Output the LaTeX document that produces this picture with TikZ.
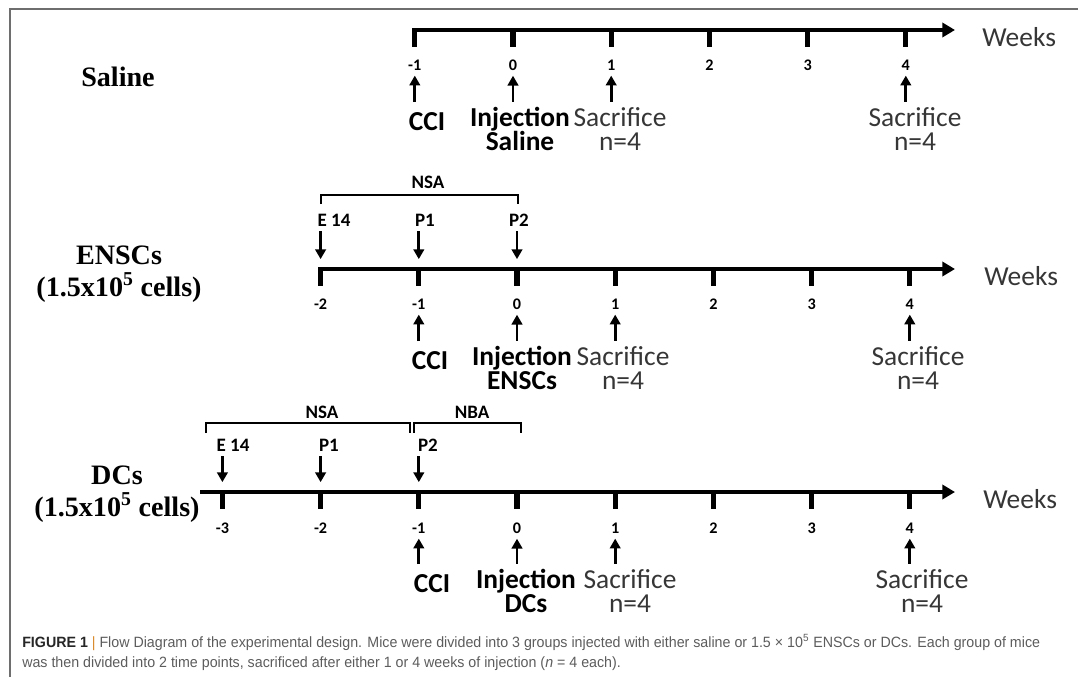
\documentclass[tikz,border=0pt]{standalone}
\usepackage{fontspec}
\setmainfont{Carlito}
\newfontfamily\groupfont{Liberation Serif}
\newfontfamily\captionfont[FakeStretch=0.955]{Liberation Sans}
\usetikzlibrary{arrows.meta, positioning}

\definecolor{framegray}{HTML}{6E6E6E}
\definecolor{txtgray}{HTML}{363636}
\definecolor{capgray}{HTML}{5C5C5C}
\definecolor{barorange}{HTML}{D9892B}

\tikzset{
  axisline/.style={line width=2.9pt, -{Triangle[length=9pt,width=10pt]}},
  tickmark/.style={line width=3.6pt},
  bracketline/.style={line width=1.3pt},
  uparrow/.style={line width=2pt, -{Triangle[length=7pt,width=7.5pt]},
                  shorten <=3.6pt, shorten >=3.6pt},
  dnarrow/.style={line width=2pt, -{Triangle[length=7pt,width=7.5pt]},
                  shorten <=3.5pt, shorten >=7pt},
  weeklbl/.style={inner sep=0pt, font=\bfseries\fontsize{11.5}{12}\selectfont},
  toplbl/.style={inner sep=0pt, font=\bfseries\fontsize{13.5}{14}\selectfont},
  evttxt/.style={inner sep=0pt, anchor=north, align=center,
                 font=\fontsize{19.5}{17}\selectfont, text=txtgray},
  evtbold/.style={evttxt, font=\bfseries\fontsize{19.5}{17}\selectfont, text=black},
  grplbl/.style={align=center, inner sep=0pt,
                 font=\groupfont\bfseries\fontsize{20}{22.5}\selectfont},
  weekstxt/.style={anchor=west, inner sep=0pt,
                   font=\fontsize{19.5}{22}\selectfont, text=txtgray},
}

\begin{document}
\begin{tikzpicture}[x=0.025cm, y=-0.025cm]
  \useasboundingbox (0,0) rectangle (1078,677);
  \draw[framegray, line width=1.4pt] (1078,9) -- (10,9) -- (10,677);

  % Saline
  \node[grplbl] (saline) at (118,77) {Saline};
  \draw[axisline] (412.3,30) -- (955,30);
  \foreach \w/\nm in {-1/m1,0/0,1/1,2/2,3/3,4/4}{
    \draw[tickmark] (513+98.2*\w,28) -- ++(0,19);
    \node[weeklbl] (a\nm) at (513+98.2*\w,65) {\w};
  }
  \node[weekstxt] (weeksa) at (982,37) {Weeks};
  \node[evtbold] (ccia) at (427,112) {CCI};
  \node[evtbold] (inja) at (520,107) {Injection\\Saline};
  \node[evttxt] (sacaone) at (620,107) {Sacrifice\\n=4};
  \node[evttxt] (sacafour) at (915,107) {Sacrifice\\n=4};
  \draw[uparrow, shorten <=7.1pt] (ccia.north -| am1) -- (am1.south);
  \draw[uparrow] (inja.north -| a0) -- (a0.south);
  \draw[uparrow] (sacaone.north -| a1) -- (a1.south);
  \draw[uparrow] (sacafour.north -| a4) -- (a4.south);

  % ENSCs
  \node[grplbl] (ensc) at (119,274) {ENSCs\\(1.5x10\textsuperscript{5} cells)};
  \draw[bracketline] (321,204) -- (321,195) -- (518,195) -- (518,204);
  \node[toplbl] (nsab) at (428,182) {NSA};
  \draw[axisline] (318.5,269) -- (955,269);
  \foreach \w/\nm in {-2/m2,-1/m1,0/0,1/1,2/2,3/3,4/4}{
    \draw[tickmark] (517+98.2*\w,267) -- ++(0,19);
    \coordinate (bt\nm) at (517+98.2*\w,269);
    \node[weeklbl] (b\nm) at (517+98.2*\w,304) {\w};
  }
  \node[weekstxt] (weeksb) at (984,276) {Weeks};
  \node[toplbl] (e14b) at (334,220) {E 14};
  \node[toplbl] (p1b) at (425,220) {P1};
  \node[toplbl] (p2b) at (519,220) {P2};
  \draw[dnarrow] (e14b.south -| btm2) -- (btm2);
  \draw[dnarrow] (p1b.south -| btm1) -- (btm1);
  \draw[dnarrow] (p2b.south -| bt0) -- (bt0);
  \node[evtbold] (ccib) at (430,351) {CCI};
  \node[evtbold] (injb) at (522,346) {Injection\\ENSCs};
  \node[evttxt] (sacbone) at (623,346) {Sacrifice\\n=4};
  \node[evttxt] (sacbfour) at (918,346) {Sacrifice\\n=4};
  \draw[uparrow, shorten <=7.1pt] (ccib.north -| bm1) -- (bm1.south);
  \draw[uparrow] (injb.north -| b0) -- (b0.south);
  \draw[uparrow] (sacbone.north -| b1) -- (b1.south);
  \draw[uparrow] (sacbfour.north -| b4) -- (b4.south);

  % DCs
  \node[grplbl] (dcs) at (117,494) {DCs\\(1.5x10\textsuperscript{5} cells)};
  \draw[bracketline] (206,433) -- (206,423) -- (410,423) -- (410,433);
  \draw[bracketline] (414,433) -- (414,423) -- (521,423) -- (521,433);
  \node[toplbl] (nsac) at (322,412) {NSA};
  \node[toplbl] (nbac) at (472,412) {NBA};
  \draw[axisline] (200,492) -- (955,492);
  \foreach \w/\nm in {-3/m3,-2/m2,-1/m1,0/0,1/1,2/2,3/3,4/4}{
    \draw[tickmark] (517+98.2*\w,490) -- ++(0,19);
    \coordinate (ct\nm) at (517+98.2*\w,492);
    \node[weeklbl] (c\nm) at (517+98.2*\w,528) {\w};
  }
  \node[weekstxt] (weeksc) at (983,499) {Weeks};
  \node[toplbl] (e14c) at (233,445) {E 14};
  \node[toplbl] (p1c) at (329,445) {P1};
  \node[toplbl] (p2c) at (428,445) {P2};
  \draw[dnarrow] (e14c.south -| ctm3) -- (ctm3);
  \draw[dnarrow] (p1c.south -| ctm2) -- (ctm2);
  \draw[dnarrow] (p2c.south -| ctm1) -- (ctm1);
  \node[evtbold] (cccc) at (432,574) {CCI};
  \node[evtbold] (injc) at (526,569) {Injection\\DCs};
  \node[evttxt] (saccone) at (630,569) {Sacrifice\\n=4};
  \node[evttxt] (saccfour) at (922,569) {Sacrifice\\n=4};
  \draw[uparrow, shorten <=7.1pt] (cccc.north -| cm1) -- (cm1.south);
  \draw[uparrow] (injc.north -| c0) -- (c0.south);
  \draw[uparrow] (saccone.north -| c1) -- (c1.south);
  \draw[uparrow] (saccfour.north -| c4) -- (c4.south);

  % caption
  \node[anchor=north west, inner sep=0pt, align=left, text=capgray,
        font=\captionfont\fontsize{10.6}{14.2}\selectfont] (caption) at (22,634)
    {{\bfseries\color{black!85}FIGURE 1} {\color{barorange}|} Flow Diagram of the experimental design. Mice were divided into 3 groups injected with either saline or 1.5 × 10\textsuperscript{5} ENSCs or DCs. Each group of mice\\
     was then divided into 2 time points, sacrificed after either 1 or 4 weeks of injection (\textit{n} = 4 each).};
\end{tikzpicture}
\end{document}
